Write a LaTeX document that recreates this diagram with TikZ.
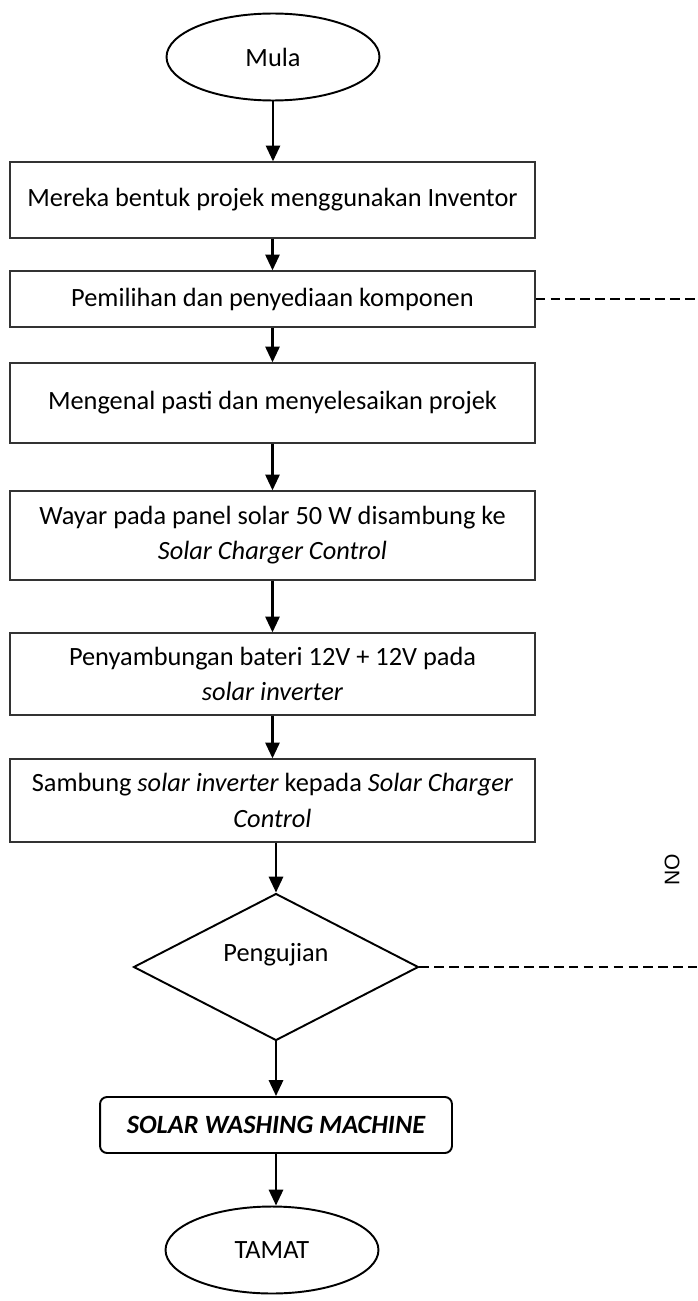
\documentclass[tikz,border=0pt]{standalone}
\usepackage{fontspec}
\setmainfont{Carlito}
\newfontfamily\nofont{Liberation Sans}
\usetikzlibrary{shapes.geometric,arrows.meta}
\begin{document}
\begin{tikzpicture}[x=0.02cm,y=-0.02cm,
  every node/.style={font=\fontsize{15}{20}\selectfont},
  stepbox/.style={draw=black!80,line width=0.7pt,rectangle,minimum width=10.5cm,inner sep=0pt,align=center},
  term/.style={draw,ellipse,line width=1.1pt,minimum width=4.26cm,minimum height=1.74cm,inner sep=0pt},
  flow/.style={line width=1.5pt,-{Triangle[length=9pt,width=8pt]}},
  nolink/.style={line width=1.6pt,dash pattern=on 5.5pt off 3pt}]
\useasboundingbox (0,0) rectangle (697,1301);
\node[term] (start) at (273,57) {Mula};
\node[stepbox,minimum height=1.52cm] (b1) at (272.5,200) {Mereka bentuk projek menggunakan Inventor};
\node[stepbox,minimum height=1.12cm] (b2) at (272.5,299) {Pemilihan dan penyediaan komponen};
\node[stepbox,minimum height=1.6cm] (b3) at (272.5,403) {Mengenal pasti dan menyelesaikan projek};
\node[stepbox,minimum height=1.78cm] (b4) at (272.5,535.5) {Wayar pada panel solar 50 W disambung ke\\ \textit{Solar Charger Control}};
\node[stepbox,minimum height=1.64cm] (b5) at (272.5,674) {Penyambungan bateri 12V + 12V pada\\ \textit{solar inverter}};
\node[stepbox,minimum height=1.66cm] (b6) at (272.5,800.5) {Sambung \textit{solar inverter} kepada \textit{Solar Charger}\\ \textit{Control}};
\node[draw,diamond,line width=1.1pt,minimum width=5.7cm,minimum height=2.94cm,inner sep=0pt] (dec) at (276,967) {};
\node (dect) at (276,955) {Pengujian};
\node[draw,rectangle,rounded corners=4pt,line width=1.1pt,minimum width=7.04cm,minimum height=1.12cm,inner sep=0pt,font=\fontsize{15}{20}\selectfont\bfseries\itshape] (mach) at (276,1125) {SOLAR WASHING MACHINE};
\node[term] (end) at (272,1250) {TAMAT};
\node[rotate=90,font=\nofont\fontsize{12}{14}\selectfont] (no) at (672,870) {NO};
\coordinate (r1) at (697,299);
\coordinate (r2) at (697,967);
\draw[flow] (start.south) -- (start.south |- b1.north);
\draw[flow] (b1.south) -- (b1.south |- b2.north);
\draw[flow] (b2.south) -- (b2.south |- b3.north);
\draw[flow] (b3.south) -- (b3.south |- b4.north);
\draw[flow] (b4.south) -- (b4.south |- b5.north);
\draw[flow] (b5.south) -- (b5.south |- b6.north);
\draw[flow] (dec.north |- b6.south) -- (dec.north);
\draw[flow] (dec.south) -- (dec.south |- mach.north);
\draw[flow] (mach.south) -- (mach.south |- end.north);
\draw[nolink] (b2.east) -- (r1);
\draw[nolink] (dec.east) -- (r2);
\end{tikzpicture}
\end{document}
